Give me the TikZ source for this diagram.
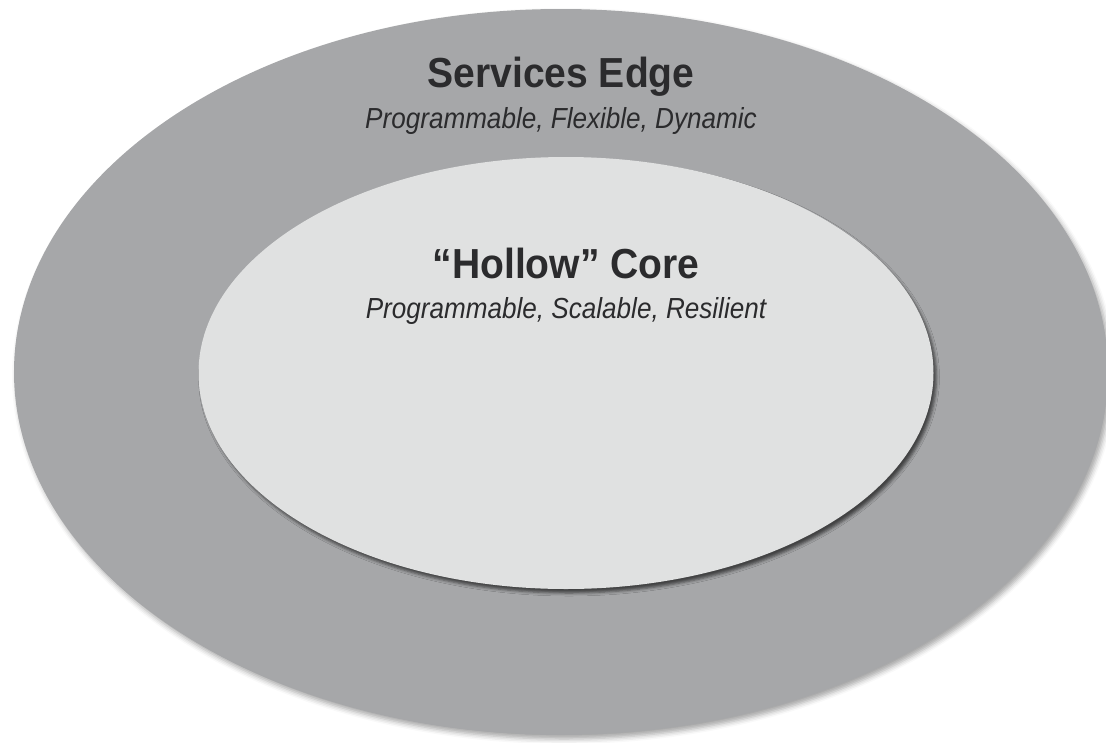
\documentclass[tikz,border=0pt]{standalone}
\usepackage{fontspec}
\setmainfont{Liberation Sans}
\newfontfamily\headfont{Liberation Sans}[FakeStretch=0.93]
\newfontfamily\tagfont{Liberation Sans}[FakeStretch=0.9]
\usetikzlibrary{shapes.geometric, shadows.blur}
\definecolor{ringgray}{HTML}{A6A7A9}
\definecolor{coregray}{HTML}{E0E1E1}
\definecolor{inkgray}{HTML}{2B2B2D}

\begin{document}
\begin{tikzpicture}[x=1pt, y=-1pt,
		ring/.style={ellipse, inner sep=0pt, draw=none},
		heading/.style={anchor=base, text=inkgray, font=\headfont\fontsize{42}{44}\selectfont\bfseries},
		tagline/.style={anchor=base, text=inkgray, font=\tagfont\fontsize{29}{31}\selectfont\itshape}]
		\useasboundingbox (0, 0) rectangle (1106, 742);
		\node[ring, fill=ringgray, minimum width=1094pt, minimum height=726pt,
			blur shadow={shadow xshift=3pt, shadow yshift=-4pt, shadow blur radius=5pt, shadow opacity=35}] (edge) at (561, 372) {};
		\node[ring, fill=coregray, minimum width=735pt, minimum height=432pt,
			blur shadow={shadow xshift=3pt, shadow yshift=-4pt, shadow blur radius=3pt, shadow opacity=60}] (core) at (566, 373) {};
		\node[heading] (edgetitle) at (561, 87) {Services Edge};
		\node[tagline] (edgetags) at (561, 128) {Programmable, Flexible, Dynamic};
		\node[heading] (coretitle) at (566, 278) {“Hollow” Core};
		\node[tagline] (coretags) at (566, 318) {Programmable, Scalable, Resilient};
	\end{tikzpicture}
\end{document}
